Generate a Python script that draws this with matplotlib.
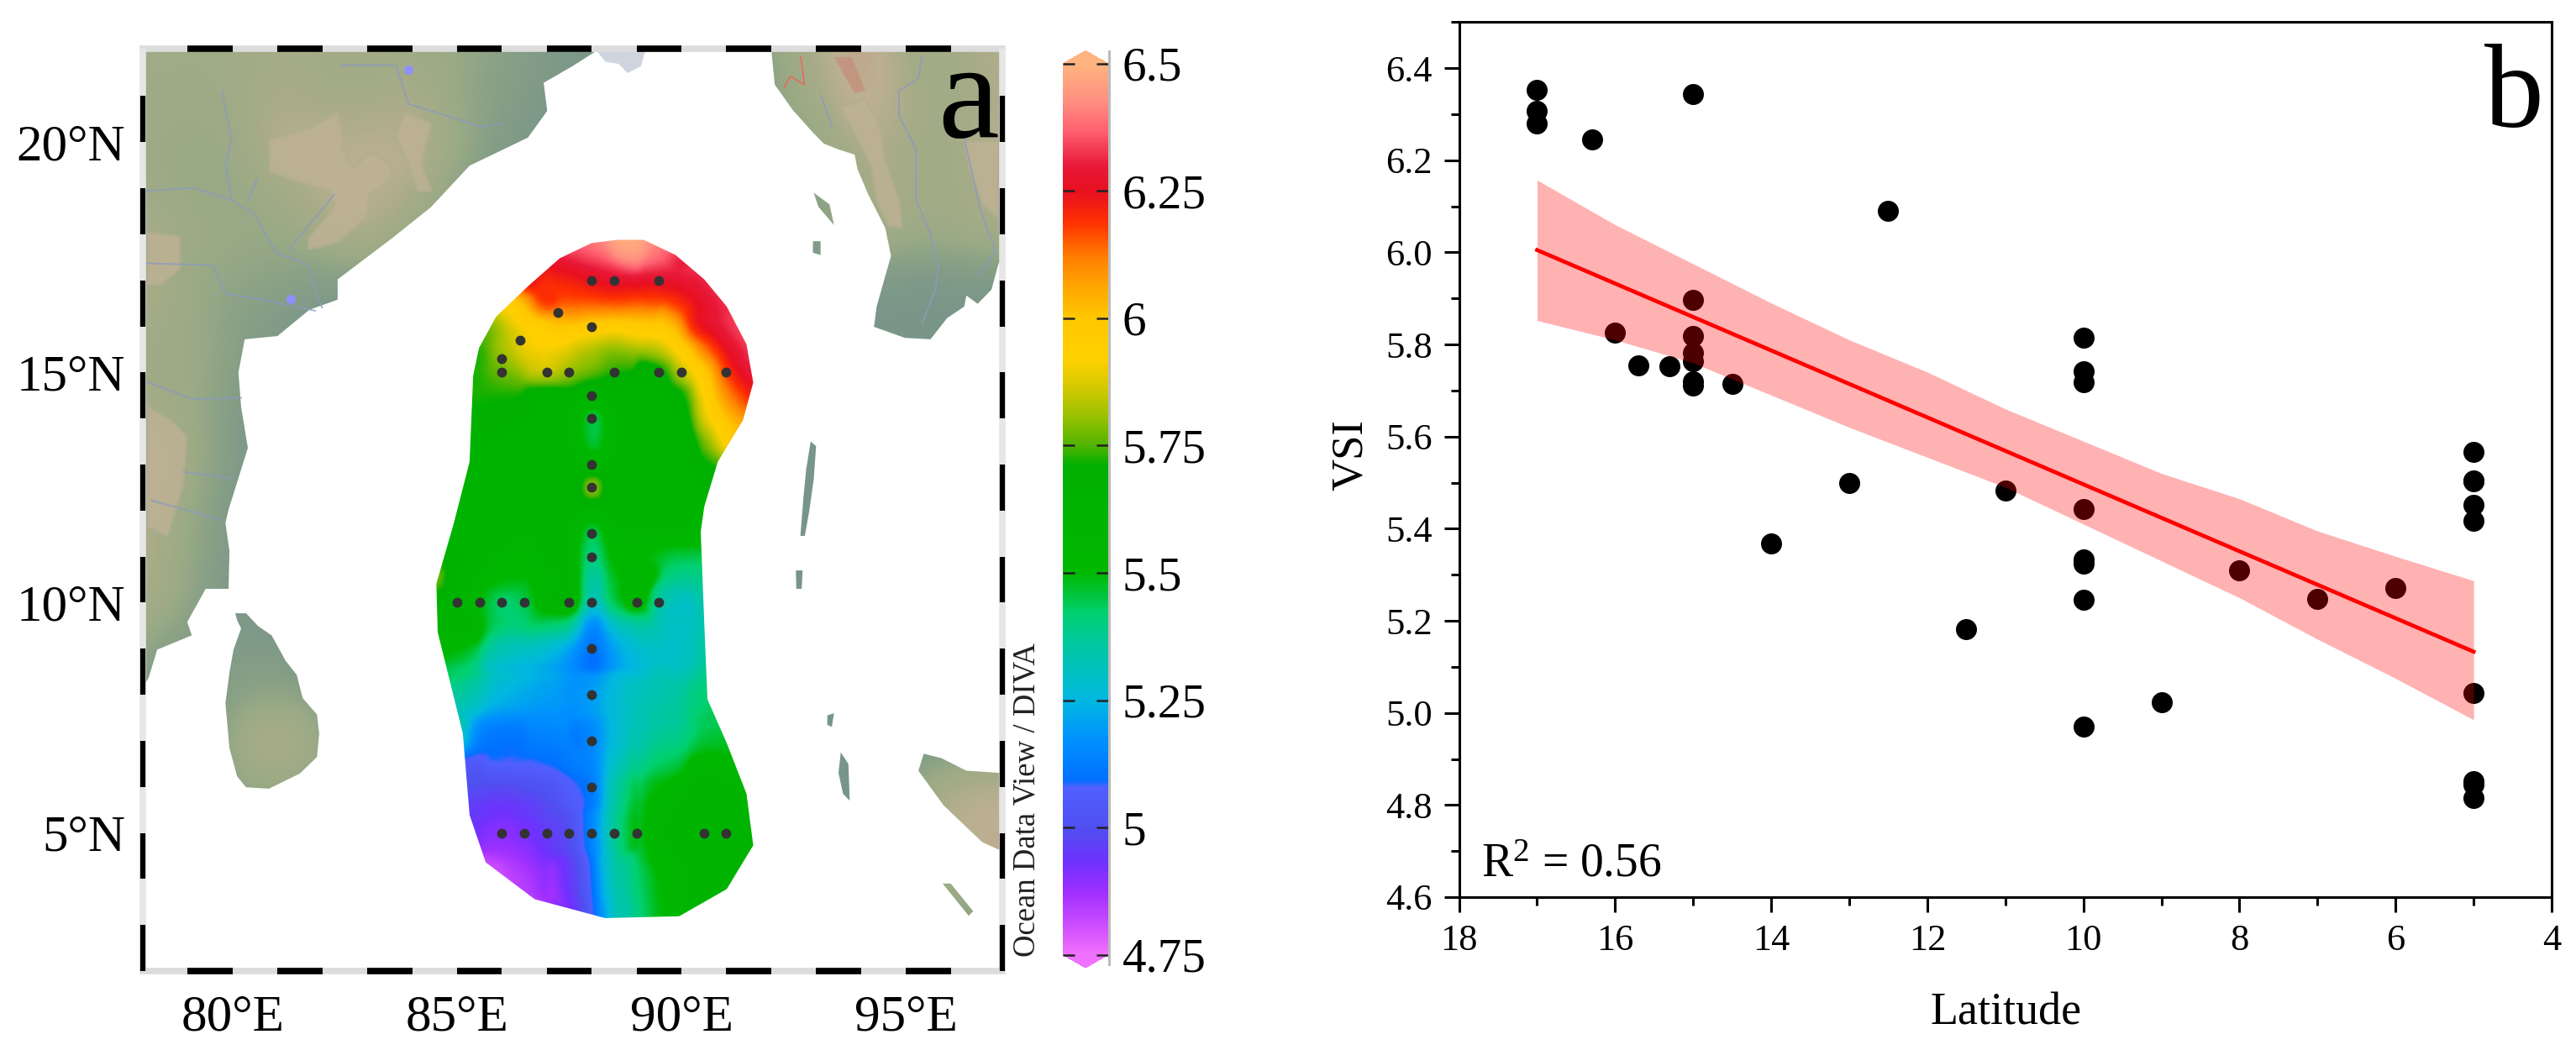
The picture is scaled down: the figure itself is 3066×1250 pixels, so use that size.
import numpy as np
import matplotlib
matplotlib.use('Agg')
import matplotlib.pyplot as plt
from matplotlib.colors import LinearSegmentedColormap, Normalize
from matplotlib.path import Path
from matplotlib.patches import PathPatch, Rectangle
from matplotlib.ticker import MultipleLocator, FormatStrFormatter

plt.rcParams['font.family'] = ['Liberation Serif', 'DejaVu Serif']
plt.rcParams['mathtext.fontset'] = 'custom'
plt.rcParams['mathtext.rm'] = 'Liberation Serif'
plt.rcParams['mathtext.it'] = 'Liberation Serif'

# panel a : stations
station_lon = [88, 88.5, 89.5, 87.25, 88, 86.4, 86,
               86, 87, 87.5, 88.5, 89.5, 90, 91,
               88, 88, 88, 88, 88, 88,
               85, 85.5, 86, 86.5, 87.5, 88, 89, 89.5,
               88, 88, 88, 88,
               86, 86.5, 87, 87.5, 88, 88.5, 89, 90.5, 91]
station_lat = [17, 17, 17, 16.3, 16, 15.7, 15.3,
               15, 15, 15, 15, 15, 15, 15,
               14.5, 14, 13, 12.5, 11.5, 11,
               10, 10, 10, 10, 10, 10, 10, 10,
               9, 8, 7, 6,
               5, 5, 5, 5, 5, 5, 5, 5, 5]

# VSI at control points: (lat, lons, values)
field_rows = [
    (18.5, [85, 87, 88.8, 90.5, 92.2], [6.3, 6.42, 6.5, 6.42, 6.35]),
    (18.2, [86, 87, 88, 88.8, 89.5, 90.5, 91.5], [6.4, 6.4, 6.42, 6.48, 6.42, 6.4, 6.35]),
    (17.7, [87.5, 88, 88.8, 89.5, 90], [6.35, 6.38, 6.47, 6.4, 6.33]),
    (17, [86.5, 87, 87.5, 88, 88.5, 89.5, 90.3, 91], [6.25, 6.2, 6.22, 6.25, 6.27, 6.27, 6.3, 6.35]),
    (16.5, [85.8, 86.4, 86.9, 87.5, 88, 89, 90, 90.5, 91], [5.9, 6.0, 6.18, 6.15, 6.15, 6.15, 6.2, 6.27, 6.32]),
    (16, [85.7, 86.2, 86.8, 87.3, 88, 89, 89.8, 90.3, 90.9, 91.4], [5.78, 5.88, 5.95, 6.0, 5.97, 5.97, 6.02, 6.22, 6.3, 6.35]),
    (15.5, [85.4, 86, 86.6, 87.3, 87.7, 88.5, 89.5, 90, 90.6, 91.3, 91.7], [5.72, 5.82, 5.9, 5.9, 5.85, 5.8, 5.85, 5.96, 6.15, 6.3, 6.35]),
    (15, [85.3, 86, 87, 87.5, 88, 88.5, 89.5, 90, 90.5, 91, 91.6], [5.72, 5.77, 5.85, 5.8, 5.76, 5.72, 5.68, 5.85, 5.98, 6.18, 6.3]),
    (14.5, [85.2, 86, 87, 88, 89, 90, 90.5, 91, 91.5], [5.72, 5.72, 5.65, 5.6, 5.6, 5.7, 5.93, 6.1, 6.2]),
    (14, [85.2, 86, 87, 87.7, 88, 88.4, 89, 90, 90.5, 91.2], [5.7, 5.68, 5.6, 5.55, 5.42, 5.55, 5.6, 5.65, 5.88, 6.05]),
    (13.5, [85, 86, 87, 87.7, 88, 88.4, 89, 90, 90.6, 91], [5.68, 5.62, 5.58, 5.55, 5.43, 5.55, 5.6, 5.62, 5.8, 5.95]),
    (13, [85, 86, 87, 88, 89, 90, 90.7], [5.65, 5.6, 5.6, 5.58, 5.6, 5.62, 5.72]),
    (12.5, [85, 86, 87, 87.6, 88, 88.4, 89, 90, 90.6], [5.63, 5.6, 5.6, 5.62, 5.85, 5.62, 5.6, 5.6, 5.65]),
    (12, [84.7, 86, 87, 88, 89, 90, 90.7], [5.62, 5.58, 5.6, 5.58, 5.6, 5.58, 5.6]),
    (11.5, [84.7, 86, 87, 87.6, 88, 88.4, 89, 90, 90.7], [5.6, 5.58, 5.58, 5.55, 5.42, 5.55, 5.55, 5.55, 5.55]),
    (11, [84, 84.6, 85.5, 86.5, 87, 87.5, 88, 88.5, 89, 90, 90.7], [5.75, 5.7, 5.58, 5.52, 5.58, 5.55, 5.4, 5.52, 5.5, 5.45, 5.45]),
    (10.5, [84.5, 85, 86, 87, 87.5, 88, 88.5, 89, 90, 90.7], [5.78, 5.62, 5.5, 5.52, 5.58, 5.35, 5.48, 5.55, 5.38, 5.4]),
    (10, [84.5, 85, 85.5, 86, 86.5, 87, 87.5, 88, 88.5, 89, 89.5, 90, 90.6], [5.65, 5.6, 5.5, 5.42, 5.45, 5.55, 5.6, 5.3, 5.45, 5.55, 5.35, 5.3, 5.35]),
    (9.5, [84.5, 85.2, 86, 87, 87.5, 88, 88.5, 89, 90, 90.7], [5.58, 5.58, 5.42, 5.42, 5.38, 5.15, 5.3, 5.35, 5.3, 5.35]),
    (9, [85, 86, 87, 87.7, 88, 88.4, 89, 90, 90.7], [5.5, 5.33, 5.28, 5.18, 5.08, 5.2, 5.28, 5.3, 5.37]),
    (8, [85.2, 86, 87, 87.7, 88, 88.5, 89.5, 90.7], [5.35, 5.25, 5.2, 5.18, 5.2, 5.27, 5.34, 5.42]),
    (7, [85, 85.5, 86, 87, 88, 88.5, 89.5, 91], [5.3, 5.12, 5.1, 5.13, 5.15, 5.27, 5.38, 5.47]),
    (6.5, [85.2, 86, 87, 87.5, 88, 88.5, 89.5, 91], [5.05, 5.08, 5.09, 5.12, 5.15, 5.3, 5.43, 5.52]),
    (6, [85.2, 86, 87, 87.5, 88, 88.5, 89.5, 90.5, 91.5], [5.0, 4.99, 5.02, 5.07, 5.12, 5.35, 5.5, 5.58, 5.58]),
    (5, [85.2, 86, 87, 87.5, 88, 88.5, 89.5, 90.5, 91.6], [4.93, 4.9, 4.96, 5.0, 5.15, 5.38, 5.55, 5.6, 5.62]),
    (4, [85.5, 86.5, 87.5, 87.9, 88.3, 89, 90, 91], [4.78, 4.85, 4.95, 5.05, 5.28, 5.42, 5.55, 5.62]),
    (3, [86, 87, 87.7, 88, 88.3, 89, 90, 91], [4.75, 4.85, 4.95, 5.05, 5.25, 5.4, 5.55, 5.65]),
    (2.5, [86, 87, 88, 89, 90, 91], [4.75, 4.85, 5.05, 5.4, 5.55, 5.65]),
]

field_outline = [(88.58, 17.88), (89.16, 17.88), (89.87, 17.55), (90.51, 17.02), (91.01, 16.43), (91.45, 15.61),
                 (91.60, 14.78), (91.37, 13.96), (90.81, 13.06), (90.51, 12.09), (90.43, 11.54), (90.51, 9.53),
                 (90.58, 7.90), (91.01, 6.95), (91.45, 5.85), (91.60, 4.73), (91.01, 3.78), (89.95, 3.19),
                 (88.30, 3.15), (86.73, 3.56), (85.64, 4.36), (85.28, 5.39), (85.13, 7.16), (84.57, 9.36),
                 (84.54, 10.41), (84.93, 11.73), (85.28, 13.06), (85.36, 14.93), (85.49, 15.53), (85.87, 16.21),
                 (86.58, 16.87), (87.29, 17.48), (88.00, 17.81)]

# land outlines, lon/lat
india = [(78, 22.1), (88.07, 22.1), (88.07, 21.96), (87.57, 21.65), (86.93, 21.29), (87.01, 20.68), (86.58, 20.10),
         (85.28, 19.49), (84.42, 18.59), (83.56, 17.92), (82.34, 17.02), (82.34, 16.58), (81.71, 16.36),
         (81.00, 15.79), (80.27, 15.72), (80.13, 15.00), (80.19, 14.25), (80.34, 13.36), (79.91, 12.02),
         (79.84, 11.73), (79.93, 11.12), (79.91, 10.30), (79.40, 10.30), (78.99, 9.58), (79.09, 9.29),
         (78.32, 8.98), (78.13, 8.37), (78, 8.15)]
sri_lanka = [(80.06, 9.77), (80.30, 9.77), (80.57, 9.49), (80.87, 9.29), (81.18, 8.74), (81.43, 8.43), (81.56, 7.93),
             (81.88, 7.57), (81.93, 7.15), (81.88, 6.65), (81.50, 6.29), (80.81, 5.96), (80.30, 5.99),
             (80.10, 6.23), (79.93, 6.84), (79.84, 7.82), (79.93, 8.48), (80.02, 8.98), (80.19, 9.44), (80.10, 9.62)]
myanmar = [(92.01, 22.1), (92.01, 21.93), (92.08, 21.25), (92.48, 20.70), (92.93, 20.21), (93.17, 19.97), (93.51, 19.84),
           (93.86, 19.73), (93.92, 19.42), (94.16, 18.87), (94.54, 18.14), (94.67, 17.53), (94.54, 17.09),
           (94.35, 16.43), (94.29, 15.99), (94.98, 15.75), (95.55, 15.72), (95.92, 16.18), (96.30, 16.43),
           (96.35, 16.67), (96.60, 16.49), (96.91, 16.80), (97.06, 17.35), (97.15, 17.5), (97.15, 22.1)]
sumatra = [(95.4, 6.72), (95.28, 6.35), (95.84, 5.6), (96.7, 4.8), (97.15, 4.6), (97.15, 6.3), (96.35, 6.35), (95.8, 6.62)]
simeulue = [(95.82, 3.9), (96.0, 3.9), (96.5, 3.3), (96.4, 3.2)]
andaman = [(92.88, 13.5), (93.0, 13.4), (92.95, 12.7), (92.85, 12.0), (92.75, 11.45), (92.65, 11.45), (92.72, 12.3), (92.78, 12.9)]
little_andaman = [(92.55, 10.7), (92.7, 10.7), (92.68, 10.3), (92.56, 10.3)]
car_nicobar = [(93.25, 7.55), (93.4, 7.6), (93.35, 7.3), (93.25, 7.35)]
great_nicobar = [(93.55, 6.75), (93.72, 6.5), (93.75, 5.7), (93.6, 5.85), (93.5, 6.3)]
cheduba = [(92.95, 18.9), (93.3, 18.65), (93.4, 18.2), (93.05, 18.6)]
ramree = [(92.93, 17.85), (93.1, 17.85), (93.1, 17.55), (92.93, 17.6)]
ganges_mouth = [(88.1, 22.0), (89.2, 22.0), (89.1, 21.65), (88.8, 21.5), (88.6, 21.7), (88.3, 21.75)]
land_parts = [india, sri_lanka, myanmar, sumatra, simeulue, andaman, little_andaman, car_nicobar,
              great_nicobar, cheduba, ramree]

# highland patches
tan_parts = [
    [(80.83, 20.06), (81.69, 20.28), (82.34, 20.63), (82.48, 20.06), (82.42, 19.86), (82.70, 19.44), (83.06, 19.78),
     (83.49, 19.56), (83.56, 19.22), (83.06, 18.87), (82.98, 18.37), (82.34, 17.82), (81.69, 17.68), (81.69, 17.90),
     (82.27, 18.59), (82.19, 18.94), (81.48, 19.14), (80.83, 19.36)],
    [(83.64, 20.13), (83.84, 20.63), (84.42, 20.41), (84.20, 19.56), (84.42, 18.94), (84.12, 18.94), (83.92, 19.56)],
    [(78.11, 18.03), (78.82, 17.95), (78.82, 17.26), (78.39, 16.91), (78.11, 16.91)],
    [(78.11, 14.25), (78.62, 13.96), (78.97, 13.61), (78.9, 12.57), (78.54, 11.45), (78.11, 11.65)],
    [(94.10, 20.94), (94.42, 20.33), (94.54, 19.60), (94.85, 18.74), (94.91, 18.14), (94.61, 18.19), (94.35, 18.74),
     (94.24, 19.47), (93.86, 20.21), (93.54, 20.75)],
    [(96.30, 20.02), (97.06, 20.02), (97.06, 18.37), (96.73, 18.63), (96.41, 19.47)],
]
red_patch = [(93.41, 21.85), (93.79, 21.85), (94.10, 21.12), (93.86, 21.07), (93.60, 21.49)]

# relief class per degree, rows lat 22..2, cols lon 78..97
relief = [
    [1.3, 1.2, 1.2, 1.4, 1.3, 1.3, 1.1, 1.0, .6, .3, .1, 0, 0, 0, .8, 1.5, 2.7, 1.2, 1.2, 1.8],
    [1.1, 1.1, 1.2, 1.6, 1.3, 1.3, 1.6, .9, .5, .2, .1, 0, 0, 0, .7, 1.3, 2.4, 1.6, 1.1, 1.6],
    [1.1, 1.0, 1.0, 1.9, 1.9, 1.9, 2.0, 1.1, .3, .1, .1, 0, 0, 0, .5, .8, 1.8, 1.4, 1.1, 2.0],
    [1.1, 1.0, .9, 1.2, 1.9, 2.0, 1.8, .6, .2, .1, 0, 0, 0, 0, .5, .5, 1.4, 1.5, 1.2, 1.7],
    [1.6, 1.1, 1.0, .9, 1.3, 1.9, .8, .2, .1, 0, 0, 0, 0, 0, .3, .3, 1.6, 1.1, 1.2, 1.4],
    [1.7, 1.0, .8, .7, .4, .3, .2, .1, 0, 0, 0, 0, 0, 0, 0, 0, .2, .1, .1, .2],
    [1.3, 1.1, .6, .2, .1, 0, 0, 0, 0, 0, 0, 0, 0, 0, 0, 0, .1, .1, .1, .1],
    [1.1, 1.1, .6, .2, 0, 0, 0, 0, 0, 0, 0, 0, 0, 0, 0, 0, 0, 0, 0, 0],
    [1.6, 1.2, .3, 0, 0, 0, 0, 0, 0, 0, 0, 0, 0, 0, 0, 0, 0, 0, 0, 0],
    [1.9, 1.3, .3, 0, 0, 0, 0, 0, 0, 0, 0, 0, 0, 0, 0, 0, 0, 0, 0, 0],
    [1.8, 1.0, .2, 0, 0, 0, 0, 0, 0, 0, 0, 0, 0, 0, 0, 0, 0, 0, 0, 0],
    [1.8, .9, .2, 0, 0, 0, 0, 0, 0, 0, 0, 0, 0, 0, 0, 0, 0, 0, 0, 0],
    [1.6, .8, .1, .1, 0, 0, 0, 0, 0, 0, 0, 0, 0, 0, 0, 0, 0, 0, 0, 0],
    [.8, .3, .3, .3, 0, 0, 0, 0, 0, 0, 0, 0, 0, 0, 0, 0, 0, 0, 0, 0],
    [.4, .2, .6, .7, .5, 0, 0, 0, 0, 0, 0, 0, 0, 0, 0, 0, 0, 0, 0, 0],
    [0, 0, 1.0, 2.3, .9, 0, 0, 0, 0, 0, 0, 0, 0, 0, 0, 0, 0, 0, 0, 0],
    [0, 0, .8, .9, .8, 0, 0, 0, 0, 0, 0, 0, 0, 0, 0, 0, 0, .7, 1.8, 2.0],
    [0, 0, .5, .5, 0, 0, 0, 0, 0, 0, 0, 0, 0, 0, 0, 0, 0, 1.0, 2.0, 2.0],
    [0, 0, 0, 0, 0, 0, 0, 0, 0, 0, 0, 0, 0, 0, 0, 0, 0, .5, 1.2, 2.6],
    [0, 0, 0, 0, 0, 0, 0, 0, 0, 0, 0, 0, 0, 0, 0, 0, 0, .2, .2, .5],
    [0, 0, 0, 0, 0, 0, 0, 0, 0, 0, 0, 0, 0, 0, 0, 0, 0, 0, 0, 0],
]
relief_lon = np.arange(78, 98)
relief_lat = np.arange(22, 1, -1)

rivers = [
    [(78.07, 18.94), (79.12, 19.01), (79.98, 18.74), (80.47, 18.45), (80.98, 17.60), (81.69, 17.33), (81.84, 16.76), (81.99, 16.41)],
    [(78.07, 17.37), (79.55, 17.33), (79.84, 16.71), (80.77, 16.56), (81.84, 16.34)],
    [(78.07, 14.80), (79.12, 14.42), (80.19, 14.45)],
    [(78.9, 12.84), (79.98, 12.70)],
    [(78.19, 12.22), (79.76, 11.80)],
    [(79.76, 21.12), (79.98, 20.06), (79.84, 19.51), (79.98, 18.79)],
    [(80.55, 19.22), (80.34, 18.74)],
    [(82.27, 18.87), (81.26, 17.68)],
    [(82.42, 21.67), (83.64, 21.67), (83.92, 20.83), (85.57, 20.33), (86.0, 20.41)],
    [(95.36, 21.85), (95.28, 21.38), (94.85, 21.12), (94.85, 20.57), (95.23, 19.84), (95.23, 18.74), (95.55, 18.01), (95.73, 17.27), (95.66, 16.80), (95.36, 16.07)],
    [(96.30, 20.10), (96.67, 18.50), (97.0, 17.64), (96.6, 17.09)],
    [(93.11, 21.01), (93.36, 20.33)],
]
border_line = [(92.66, 21.85), (92.74, 21.25), (92.42, 21.43), (92.29, 21.19)]
lakes_lon = [83.92, 81.3]
lakes_lat = [21.58, 16.6]

map_lon_ticks = [80, 85, 90, 95]
map_lon_labels = ['80°E', '85°E', '90°E', '95°E']
map_lat_ticks = [5, 10, 15, 20]
map_lat_labels = ['5°N', '10°N', '15°N', '20°N']

cbar_ticks = [4.75, 5, 5.25, 5.5, 5.75, 6, 6.25, 6.5]
cbar_labels = ['4.75', '5', '5.25', '5.5', '5.75', '6', '6.25', '6.5']
cmap_vals = [4.75, 4.80, 4.87, 4.93, 5.0, 5.08, 5.09, 5.17, 5.25, 5.36, 5.42, 5.5, 5.71, 5.75, 5.80, 5.86,
             5.92, 6.0, 6.06, 6.12, 6.19, 6.25, 6.30, 6.37, 6.43, 6.5]
cmap_cols = ['#f070ff', '#d050ff', '#a030ff', '#7030ff', '#5050f0', '#5060ff', '#0070ff', '#0090ff', '#00b8e0',
             '#00c8a0', '#00d070', '#00b800', '#00b000', '#50b400', '#90c000', '#d0c800', '#ffd000', '#ffc800',
             '#ffa800', '#ff8000', '#ff3000', '#e81020', '#e81838', '#ff6070', '#ff9080', '#ffb37f']

# panel b
lat_pts = [17, 17, 17, 16.3, 15, 12.5, 16, 15.7, 15.3, 15, 15, 15, 15, 15, 15, 14.5, 13, 14, 11.5, 11,
           10, 10, 10, 10, 10, 10, 10, 10, 9, 8, 7, 6, 5, 5, 5, 5, 5, 5, 5, 5, 5]
vsi_pts = [6.352, 6.308, 6.279, 6.246, 6.343, 6.09, 5.826, 5.755, 5.752, 5.896, 5.818, 5.782, 5.763, 5.72, 5.71,
           5.715, 5.50, 5.367, 5.182, 5.482, 5.814, 5.742, 5.718, 5.443, 5.333, 5.324, 5.246, 4.971, 5.024,
           5.31, 5.248, 5.272, 5.566, 5.505, 5.502, 5.451, 5.418, 5.043, 4.852, 4.845, 4.815]
fit_lat = [17, 5]
fit_vsi = [6.005, 5.133]
band_lat = [17, 16, 15, 14, 13, 12, 11, 10, 9, 8, 7, 6, 5]
band_hi = [6.157, 6.06, 5.975, 5.89, 5.81, 5.74, 5.66, 5.59, 5.52, 5.465, 5.395, 5.34, 5.287]
band_lo = [5.852, 5.81, 5.76, 5.69, 5.62, 5.555, 5.49, 5.41, 5.33, 5.25, 5.16, 5.075, 4.985]

W, H = 3066, 1250


def rect(x0, y0, x1, y1):
    return [x0 / W, 1 - y1 / H, (x1 - x0) / W, (y1 - y0) / H]


def fx(x):
    return x / W


def fy(y):
    return 1 - y / H


def polygon_path(parts):
    return Path.make_compound_path(*[Path(list(p) + [p[0]], closed=True) for p in parts])


def gauss_fit(xq, yq, xp, yp, vp, sigma):
    d2 = (xq[..., None] - xp) ** 2 + (yq[..., None] - yp) ** 2
    w = np.exp(-d2 / (2 * sigma ** 2)) + 1e-12
    return (w * vp).sum(-1) / w.sum(-1)


fig = plt.figure(figsize=(W / 100, H / 100), dpi=100, facecolor='white')

# map
ax = fig.add_axes(rect(170, 58, 1193, 1156))
relief_cmap = LinearSegmentedColormap.from_list('relief', [(0, '#78958a'), (0.17, '#869f86'), (0.33, '#9aaa85'),
                                                           (0.5, '#a8ac88'), (0.67, '#bdb092'), (0.87, '#c09a80'),
                                                           (1, '#c08878')])
im = ax.imshow(relief, extent=[relief_lon[0] - .5, relief_lon[-1] + .5, relief_lat[-1] - .5, relief_lat[0] + .5],
               cmap=relief_cmap, vmin=0, vmax=3, interpolation='bicubic', aspect='auto', zorder=1)
land_patch = PathPatch(polygon_path(land_parts), transform=ax.transData, fc='none', ec='none')
ax.add_patch(land_patch)
im.set_clip_path(land_patch)

for part in tan_parts:
    ax.add_patch(plt.Polygon(part, fc='#bfb295', ec='#b2ae90', lw=2, alpha=.8, zorder=1.5))
ax.add_patch(plt.Polygon(red_patch, fc='#c4907c', ec='none', alpha=.8, zorder=1.5))
for r in rivers:
    rx, ry = zip(*r)
    ax.plot(rx, ry, color='#8a9ac0', lw=1.3, alpha=.8, zorder=2)
rx, ry = zip(*border_line)
ax.plot(rx, ry, color='#e07060', lw=1.3, zorder=2)
ax.plot(lakes_lon, lakes_lat, ls='none', marker='o', ms=7, color='#8f90ff', zorder=2)
ax.add_patch(plt.Polygon(ganges_mouth, fc='#a8b4c4', ec='none', alpha=.55, zorder=2))

# VSI field: two pass gaussian gridding of the control points
f_lon, f_lat, f_val = [], [], []
for lat, lons, vals in field_rows:
    f_lon += lons
    f_lat += [lat] * len(lons)
    f_val += vals
f_lon, f_lat, f_val = np.array(f_lon, float), np.array(f_lat, float), np.array(f_val, float)
grid_lon, grid_lat = np.meshgrid(np.linspace(84, 92.2, 270), np.linspace(18.5, 2.5, 400))
grid_val = gauss_fit(grid_lon, grid_lat, f_lon, f_lat, f_val, .42)
resid = f_val - gauss_fit(f_lon, f_lat, f_lon, f_lat, f_val, .42)
grid_val = grid_val + gauss_fit(grid_lon, grid_lat, f_lon, f_lat, resid, .2)

vsi_cmap = LinearSegmentedColormap.from_list('vsi', [((v - 4.75) / 1.75, c) for v, c in zip(cmap_vals, cmap_cols)], N=512)
vsi_cmap.set_over(cmap_cols[-1])
vsi_cmap.set_under(cmap_cols[0])
norm = Normalize(4.75, 6.5)
mesh = ax.imshow(grid_val, extent=[84, 92.2, 2.5, 18.5], cmap=vsi_cmap, norm=norm, interpolation='bilinear',
                 aspect='auto', zorder=3)
field_patch = PathPatch(polygon_path([field_outline]), transform=ax.transData, fc='none', ec='none')
ax.add_patch(field_patch)
mesh.set_clip_path(field_patch)
ax.plot(station_lon, station_lat, ls='none', marker='o', ms=8.5, color='#333333', mew=0, zorder=4)

ax.set_xlim(78, 97.15)
ax.set_ylim(2, 22.03)
for s in ax.spines.values():
    s.set_visible(False)
ax.set_xticks(map_lon_ticks, map_lon_labels)
ax.set_yticks(map_lat_ticks, map_lat_labels)
ax.tick_params(axis='both', length=0, labelsize=44)
ax.tick_params(axis='x', pad=20)
ax.tick_params(axis='y', pad=15)

# dashed frame
xmin, xmax = ax.get_xlim()
ymin, ymax = ax.get_ylim()
for y in (ymin, ymax):
    ax.plot([xmin, xmax], [y, y], color='#dcdcdc', lw=5.5, clip_on=False, solid_capstyle='projecting', zorder=5)
    for lon in range(79, 96, 2):
        ax.plot([lon, lon + 1], [y, y], color='black', lw=5.5, clip_on=False, solid_capstyle='butt', zorder=6)
for x in (xmin, xmax):
    ax.plot([x, x], [ymin, ymax], color='#e6e6e6', lw=5.5, clip_on=False, solid_capstyle='butt', zorder=5)
    for lat in range(2, 21, 2):
        ax.plot([x, x], [lat, lat + 1], color='black', lw=4.5, clip_on=False, solid_capstyle='butt', zorder=6)

fig.text(fx(1116), fy(163), 'a', fontsize=118, color='black', ha='left', va='baseline')

# colourbar
cax = fig.add_axes(rect(1265, 60.5, 1319, 1152))
cb = fig.colorbar(plt.cm.ScalarMappable(norm=norm, cmap=vsi_cmap), cax=cax, extend='both', extendfrac=0.0146,
                  ticks=cbar_ticks, drawedges=False)
cb.outline.set_visible(False)
cb.set_ticklabels(cbar_labels)
cax.tick_params(axis='y', which='major', direction='in', left=True, right=True, labelleft=False, labelright=True,
                length=10, width=1.8, color='#222222', labelsize=41, pad=12)
cax.minorticks_off()
fig.add_artist(Rectangle((fx(1319), fy(1150)), 3 / W, 1090 / H, transform=fig.transFigure, fc='#bbbbbb', ec='none'))
fig.text(fx(1222), fy(952), 'Ocean Data View / DIVA', rotation=90, fontsize=26.5, color='#222222', ha='center', va='center')

# scatter
bx = fig.add_axes(rect(1736.6, 26.3, 3037, 1068))
bx.scatter(lat_pts, vsi_pts, s=324, color='black', linewidths=0, zorder=2)
bx.fill_between(band_lat, band_lo, band_hi, color='red', alpha=.3, linewidth=0, zorder=3)
bx.plot(fit_lat, fit_vsi, color='red', lw=3.4, zorder=4)
bx.set_xlim(18, 4)
bx.set_ylim(4.6, 6.5)
bx.xaxis.set_major_locator(MultipleLocator(2))
bx.xaxis.set_minor_locator(MultipleLocator(1))
bx.yaxis.set_major_locator(MultipleLocator(.2))
bx.yaxis.set_minor_locator(MultipleLocator(.1))
bx.yaxis.set_major_formatter(FormatStrFormatter('%.1f'))
bx.tick_params(which='major', length=13, width=2.2, labelsize=32, pad=10)
bx.tick_params(which='minor', length=7, width=2.2)
for s in bx.spines.values():
    s.set_linewidth(2.2)
fig.text(fx(2388), fy(1206), 'Latitude', fontsize=39, ha='center', va='center')
fig.text(fx(1608), fy(542), 'VSI', fontsize=38, rotation=90, ha='center', va='center')
fig.text(fx(1763), fy(1043), 'R$^{2}$ = 0.56', fontsize=40, ha='left', va='baseline')
fig.text(fx(2957), fy(151), 'b', fontsize=102, ha='left', va='baseline')

fig.savefig('out.png', dpi=100)
